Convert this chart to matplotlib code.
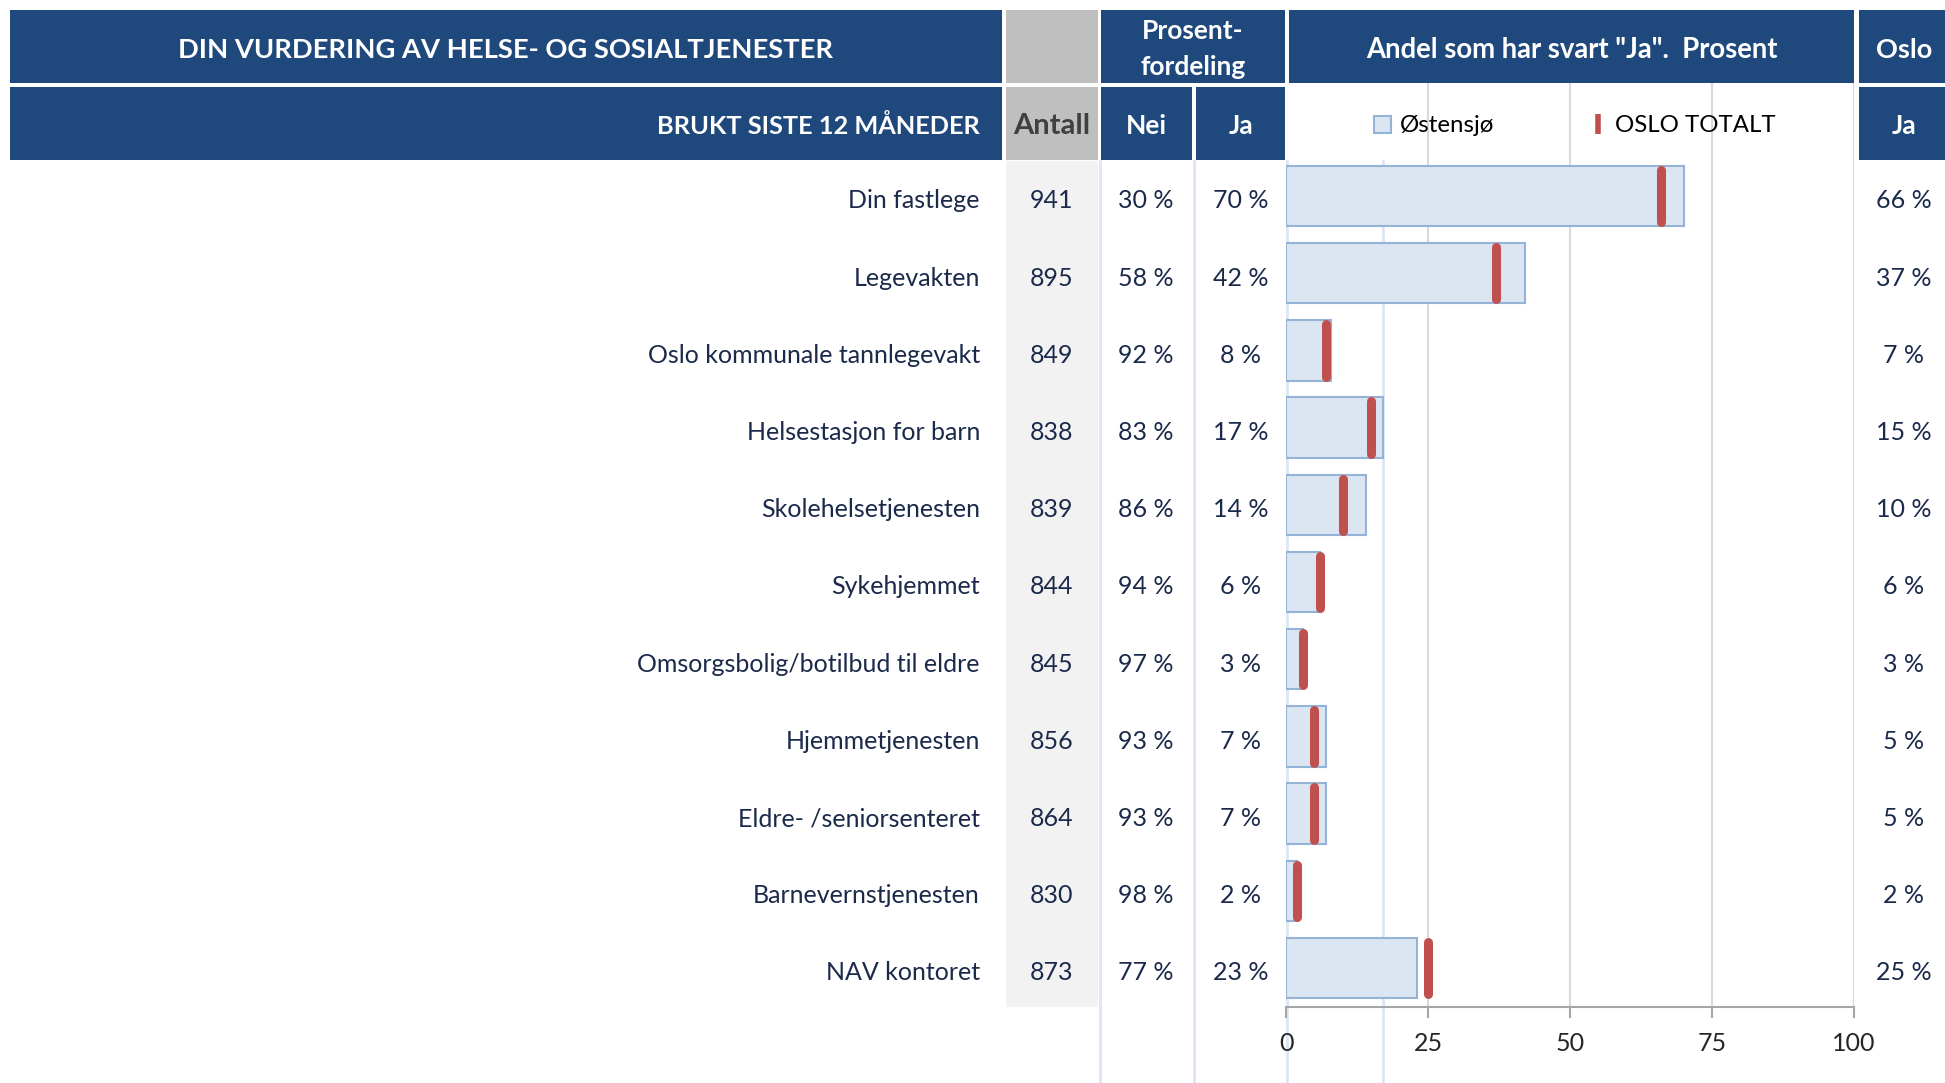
import matplotlib
matplotlib.use("Agg")
import matplotlib.pyplot as plt
from matplotlib.patches import Rectangle, Patch
from matplotlib.lines import Line2D
from matplotlib import transforms

plt.rcParams["font.family"] = ["Lato", "DejaVu Sans"]

# ---------------------------------------------------------------------------
# Data
# ---------------------------------------------------------------------------
services = [
    "Din fastlege",
    "Legevakten",
    "Oslo kommunale tannlegevakt",
    "Helsestasjon for barn",
    "Skolehelsetjenesten",
    "Sykehjemmet",
    "Omsorgsbolig/botilbud til eldre",
    "Hjemmetjenesten",
    "Eldre- /seniorsenteret",
    "Barnevernstjenesten",
    "NAV kontoret",
]
antall = [941, 895, 849, 838, 839, 844, 845, 856, 864, 830, 873]
nei = [30, 58, 92, 83, 86, 94, 97, 93, 93, 98, 77]
ja = [70, 42, 8, 17, 14, 6, 3, 7, 7, 2, 23]
oslo_ja = [66, 37, 7, 15, 10, 6, 3, 5, 5, 2, 25]
x_ticks = [0, 25, 50, 75, 100]

# ---------------------------------------------------------------------------
# Style
# ---------------------------------------------------------------------------
W, H = 1945, 1083
NAVY = "#1F497D"
GRAY_HDR = "#BFBFBF"
GRAY_COL = "#F2F2F2"
TXT = "#1B2A4A"
BAR_FACE = "#DCE6F2"
BAR_EDGE = "#95B3D7"
RED = "#C0504D"
LINE_BLUE = "#DCE6F2"
GRID = "#D9D9D9"
FS = 18

fig = plt.figure(figsize=(W / 100, H / 100), dpi=100)

# background axes in pixel coordinates (table / headers)
bg = fig.add_axes([0, 0, 1, 1])
bg.set_xlim(0, W)
bg.set_ylim(H, 0)
bg.axis("off")

# chart axes
AX_L, AX_R, AX_T, AX_B = 1286, 1854, 83, 1007
ax = fig.add_axes([AX_L / W, 1 - AX_B / H, (AX_R - AX_L) / W, (AX_B - AX_T) / H])
ax.set_facecolor("none")
n = len(services)
row0, row_h = 196, 77.2
ax.set_ylim((AX_B - row0) / row_h, (AX_T - row0) / row_h)
ax.set_xlim(0, 100)

# header cells
def cell(x0, x1, y0, y1, color):
    bg.add_patch(Rectangle((x0, y0), x1 - x0, y1 - y0, facecolor=color,
                           edgecolor="none", zorder=1))

r1 = (10, 83)
r2 = (87, 160)
cell(10, 1002, *r1, NAVY)
cell(1006, 1098, *r1, GRAY_HDR)
cell(1101, 1285, *r1, NAVY)
cell(1289, 1854, *r1, NAVY)
cell(1859, W, *r1, NAVY)
cell(10, 1002, *r2, NAVY)
cell(1006, 1098, *r2, GRAY_HDR)
cell(1101, 1192, *r2, NAVY)
cell(1196, 1285, *r2, NAVY)
cell(1859, W, *r2, NAVY)
cell(1006, 1098, 161, AX_B, GRAY_COL)

# table column borders
for xv in [1100, 1194, 1287, 1383]:
    bg.plot([xv, xv], [161, H], color=LINE_BLUE, lw=2, zorder=2)

hdr = dict(color="white", fontweight="bold", va="center", zorder=3)
bg.text(506, 50, "DIN VURDERING AV HELSE- OG SOSIALTJENESTER", ha="center",
        fontsize=19.7, **hdr)
bg.text(1193, 49, "Prosent-\nfordeling", ha="center", fontsize=19,
        linespacing=1.6, **hdr)
bg.text(1572, 50, 'Andel som har svart "Ja".  Prosent', ha="center",
        fontsize=19.8, **hdr)
bg.text(1904, 50, "Oslo", ha="center", fontsize=19.5, **hdr)
bg.text(980, 126, "BRUKT SISTE 12 MÅNEDER", ha="right", fontsize=18.3, **hdr)
bg.text(1146, 126, "Nei", ha="center", fontsize=19, **hdr)
bg.text(1241, 126, "Ja", ha="center", fontsize=19, **hdr)
bg.text(1904, 126, "Ja", ha="center", fontsize=19, **hdr)
bg.text(1052, 126, "Antall", ha="center", va="center", fontsize=21,
        color="#404040", fontweight="bold", zorder=3)

# table rows (x in pixels, y in chart row units, nudged a few px down)
row_tr = transforms.blended_transform_factory(bg.transData, ax.transData) + \
    transforms.ScaledTranslation(0, -0.05, fig.dpi_scale_trans)
for i, name in enumerate(services):
    kw = dict(transform=row_tr, va="center", fontsize=FS, color=TXT)
    fig.text(980, i, name, ha="right", **kw)
    fig.text(1052, i, f"{antall[i]}", ha="center", **kw)
    fig.text(1146, i, f"{nei[i]} %", ha="center", **kw)
    fig.text(1241, i, f"{ja[i]} %", ha="center", **kw)
    fig.text(1904, i, f"{oslo_ja[i]} %", ha="center", **kw)

# bars + Oslo markers
y = list(range(n))
ax.barh(y, ja, height=0.78, color=BAR_FACE, edgecolor=BAR_EDGE, lw=1.5,
        zorder=3)
ax.vlines(oslo_ja, [v - 0.34 for v in y], [v + 0.34 for v in y], color=RED,
          lw=6.5, capstyle="round", zorder=4)

ax.set_xticks(x_ticks)
ax.set_yticks([])
ax.grid(axis="x", color=GRID, lw=1.5, zorder=0)
ax.get_xgridlines()[0].set_visible(False)
for s in ["top", "left", "right"]:
    ax.spines[s].set_visible(False)
ax.spines["bottom"].set_color("#A6A6A6")
ax.spines["bottom"].set_linewidth(1.5)
ax.tick_params(axis="x", length=8, width=1.5, color="#A6A6A6",
               labelsize=FS, labelcolor="#262626", pad=10)

# legend
handles = [
    Patch(facecolor=BAR_FACE, edgecolor=BAR_EDGE, lw=1.5, label="Østensjø"),
    Line2D([], [], color=RED, marker="|", linestyle="None", markersize=15,
           markeredgewidth=4, label="OSLO TOTALT"),
]
leg = ax.legend(handles=handles, ncol=2, frameon=False, fontsize=17.3,
                loc="center", bbox_to_anchor=(1575 / W, 1 - 126 / H),
                bbox_transform=fig.transFigure,
                handlelength=0.7, handleheight=0.7, handletextpad=0.35,
                columnspacing=4.0)

fig.savefig("out.png", dpi=100)
